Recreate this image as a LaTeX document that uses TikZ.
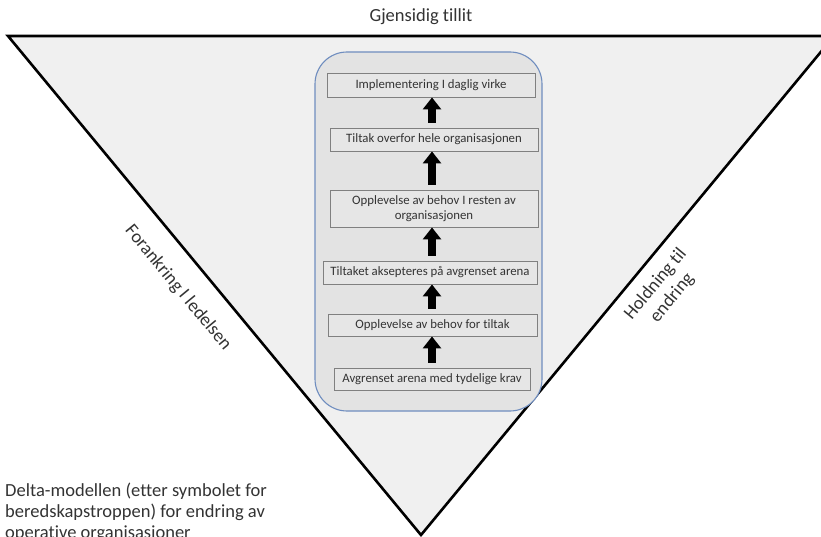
\documentclass[tikz,border=0pt]{standalone}
\usepackage{fontspec}
\setmainfont{Carlito}[Ligatures={NoCommon}]
\usetikzlibrary{arrows.meta}
\definecolor{trifill}{HTML}{F0F0F0}
\definecolor{panelfill}{HTML}{E3E3E3}
\definecolor{panelline}{HTML}{6F8DBF}
\definecolor{boxfill}{HTML}{E6E6E6}
\definecolor{boxline}{HTML}{808080}
\definecolor{txt}{HTML}{333333}
\tikzset{
  stepbox/.style={draw=boxline, line width=0.9pt, fill=boxfill, inner sep=0pt, align=center,
     font=\fontsize{12.8}{14.5}\selectfont, text=txt},
  blockarrow/.style={line width=7.5pt, draw=black, -{Triangle[width=18pt,length=12pt]}, shorten <=5pt},
  biglabel/.style={font=\fontsize{18.5}{21.5}\selectfont, text=txt, align=center}
}
\begin{document}
\begin{tikzpicture}[x=1pt,y=-1pt]
\useasboundingbox[fill=white] (0,0) rectangle (821,537);
% triangle
\draw[fill=trifill, line width=2.6pt, line join=miter] (8,36) -- (834,36) -- (421,535) -- cycle;
% title
\node[biglabel] (title) at (421,17) {Gjensidig tillit};
% panel
\draw[draw=panelline, line width=1.1pt, fill=panelfill, rounded corners=32pt] (315,52) rectangle (542,411);
% steps
\node[stepbox, minimum width=208pt, minimum height=24pt] (b1) at (431,85) {Implementering I daglig virke};
\node[stepbox, minimum width=208pt, minimum height=23pt] (b2) at (434,139.5) {Tiltak overfor hele organisasjonen};
\node[stepbox, minimum width=208pt, minimum height=37pt] (b3) at (434,208.5) {Opplevelse av behov I resten av\\organisasjonen};
\node[stepbox, minimum width=214pt, minimum height=23pt] (b4) at (430,272.5) {Tiltaket aksepteres på avgrenset arena};
\node[stepbox, minimum width=209pt, minimum height=22pt] (b5) at (432.5,325) {Opplevelse av behov for tiltak};
\node[stepbox, minimum width=196pt, minimum height=22pt] (b6) at (432,379) {Avgrenset arena med tydelige krav};
% arrows
\draw[blockarrow] (b2.north -| 432,0) -- (b1.south -| 432,0);
\draw[blockarrow] (b3.north -| 432,0) -- (b2.south -| 432,0);
\draw[blockarrow] (b4.north -| 432,0) -- (b3.south -| 432,0);
\draw[blockarrow] (b5.north -| 432,0) -- (b4.south -| 432,0);
\draw[blockarrow] (b6.north -| 432,0) -- (b5.south -| 432,0);
% side labels
\node[biglabel, rotate=-50.4] (left) at (178,288) {Forankring I ledelsen};
\node[biglabel, rotate=50.4] (right) at (664,291) {Holdning til\\endring};
% caption
\node[anchor=north west, align=left, inner sep=0pt, font=\fontsize{18.5}{21}\selectfont, text=txt] (cap) at (5,483)
 {Delta-modellen (etter symbolet for\\beredskapstroppen) for endring av\\operative organisasjoner};
\end{tikzpicture}
\end{document}
